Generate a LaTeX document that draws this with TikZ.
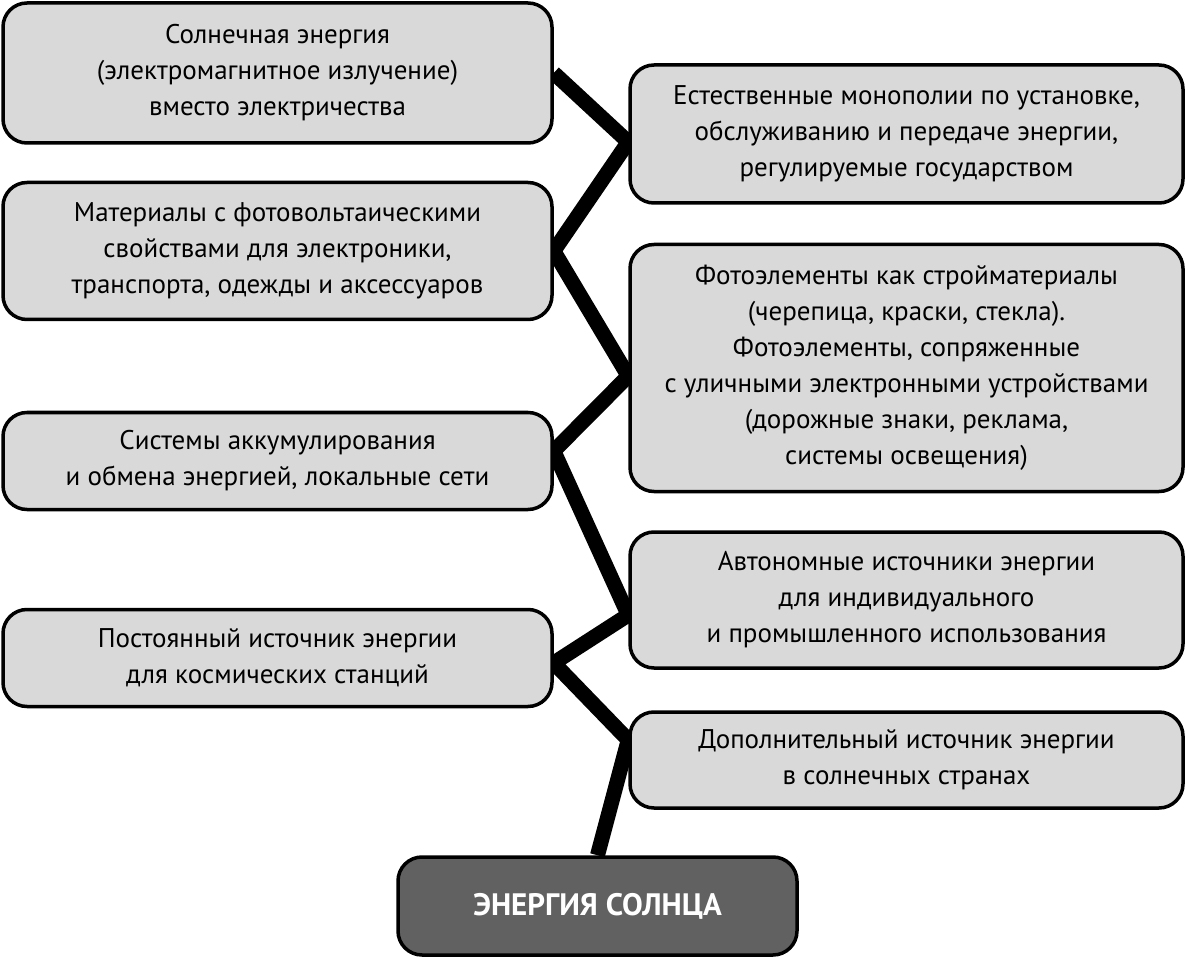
\documentclass[tikz,border=0pt]{standalone}
\usepackage{fontspec}
\setmainfont{PT Sans}
\usetikzlibrary{backgrounds}
\tikzset{
  box/.style={draw=black, line width=3.5pt, rounded corners=24pt, fill=gray!30,
    align=center, font=\fontsize{27}{36}\selectfont, inner sep=0pt},
  sun/.style={box, fill=black!62, text=white, font=\fontsize{31}{36}\selectfont\bfseries},
  link/.style={line width=15pt, line join=miter}
}
\begin{document}
\begin{tikzpicture}[x=1pt, y=-1pt]
  \useasboundingbox (0,0) rectangle (1186,957);
  % left column
  \node[box, minimum width=549pt, minimum height=140pt] (sol) at (277.5,73)
    {Солнечная энергия\\(электромагнитное излучение)\\вместо электричества};
  \node[box, minimum width=549pt, minimum height=137pt] (mat) at (277.5,251)
    {Материалы с фотовольтаическими\\свойствами для электроники,\\транспорта, одежды и аксессуаров};
  \node[box, minimum width=549pt, minimum height=97pt] (akk) at (277.5,461)
    {Системы аккумулирования\\и обмена энергией, локальные сети};
  \node[box, minimum width=549pt, minimum height=97pt] (kosm) at (277.5,658)
    {Постоянный источник энергии\\для космических станций};
  % right column
  \node[box, minimum width=553pt, minimum height=138pt] (mono) at (906.5,134)
    {Естественные монополии по установке,\\обслуживанию и передаче энергии,\\регулируемые государством};
  \node[box, minimum width=553pt, minimum height=247pt] (foto) at (906.5,368)
    {Фотоэлементы как стройматериалы\\(черепица, краски, стекла).\\Фотоэлементы, сопряженные\\с уличными электронными устройствами\\(дорожные знаки, реклама,\\системы освещения)};
  \node[box, minimum width=553pt, minimum height=136pt] (avt) at (906.5,600)
    {Автономные источники энергии\\для индивидуального\\и промышленного использования};
  \node[box, minimum width=553pt, minimum height=96pt] (dop) at (906.5,760)
    {Дополнительный источник энергии\\в солнечных странах};
  % root
  \node[sun, minimum width=399pt, minimum height=98pt] (root) at (597.5,906)
    {ЭНЕРГИЯ СОЛНЦА};
  \begin{pgfonlayer}{background}
    \draw[link] (root.north) -- ([yshift=20pt]dop.west) -- ([yshift=-5pt]kosm.east)
      -- ([yshift=-15pt]avt.west) -- ([yshift=10pt]akk.east) -- ([yshift=-8pt]foto.west)
      -- (mat.east) -- ([yshift=-8pt]mono.west) -- (sol.east);
  \end{pgfonlayer}
\end{tikzpicture}
\end{document}
